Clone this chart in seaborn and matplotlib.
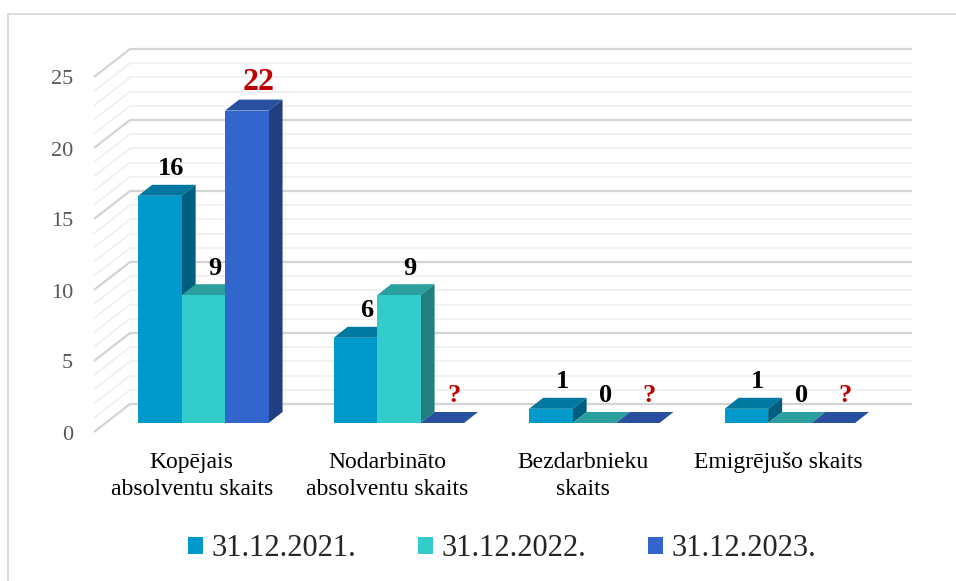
import numpy as np
import pandas as pd
import matplotlib
matplotlib.use("Agg")
import matplotlib.pyplot as plt
from matplotlib.patches import Polygon, Patch
from matplotlib.lines import Line2D
import matplotlib.colors as mcolors
import seaborn as sns

# ---------------- data ----------------
categories = ["Kopējais\nabsolventu skaits", "Nodarbināto\nabsolventu skaits",
              "Bezdarbnieku\nskaits", "Emigrējušo skaits"]
series_names = ["31.12.2021.", "31.12.2022.", "31.12.2023."]
values_2021 = [16, 6, 1, 1]
values_2022 = [9, 9, 0, 0]
values_2023 = [22, np.nan, np.nan, np.nan]   # unknown -> shown as "?"
y_ticks = [0, 5, 10, 15, 20, 25]

# ---------------- style ----------------
front_colors = ["#0099CC", "#33CCCC", "#3366CC"]
top_colors = ["#00789F", "#2A9F9D", "#28509F"]
side_colors = ["#005F80", "#1F807D", "#213F80"]
label_colors = ["black", "black", "#C00000"]

sns.set_style("white")
plt.rcParams["font.family"] = ["Liberation Serif", "DejaVu Serif"]

W, H, DPI = 956, 581, 100
fig = plt.figure(figsize=(W / DPI, H / DPI), dpi=DPI)
fig.patch.set_facecolor("white")

# front plane of the 3D box, in pixels
X0, X1 = 94, 876
Y0, Y25 = 432, 77
ax = fig.add_axes([X0 / W, 1 - Y0 / H, (X1 - X0) / W, (Y0 - Y25) / H])

df = pd.DataFrame({
    "category": categories * 3,
    "series": np.repeat(series_names, len(categories)),
    "value": values_2021 + values_2022 + values_2023,
})
df["height"] = df["value"].fillna(0)

sns.barplot(data=df, x="category", y="height", hue="series", order=categories,
            hue_order=series_names, palette=front_colors, saturation=1,
            width=0.667, linewidth=0, errorbar=None, legend=False, ax=ax)

ax.set_xlim(-0.5, 3.5)
ax.set_ylim(0, 25)
ax.axis("off")

px_x = (X1 - X0) / 4.0      # pixels per x unit
px_y = (Y0 - Y25) / 25.0    # pixels per value unit

def dx(p):
    return p / px_x

def dy(p):
    return p / px_y

# ---------------- walls ----------------
WDX, WDY = dx(36), dy(28)
for v in range(0, 26):
    major = v % 5 == 0
    col = "#d4d4d4" if major else "#eeeeee"
    lw = 1.6 if major else 1.1
    ax.plot([-0.5, -0.5 + WDX], [v, v + WDY], color=col, lw=lw,
            clip_on=False, zorder=1, solid_capstyle="butt")
    ax.plot([-0.5 + WDX, 3.5 + WDX], [v + WDY, v + WDY], color=col, lw=lw,
            clip_on=False, zorder=1, solid_capstyle="butt")

# ---------------- 3D bars ----------------
BDX0, BDY0 = dx(11.6), dy(9)     # bar front plane offset
BDX, BDY = dx(14), dy(11)        # bar depth

rgba_front = [mcolors.to_rgba(c) for c in front_colors]
bars = []
for p in list(ax.patches):
    fc = p.get_facecolor()
    idx = int(np.argmin([np.sum((np.array(fc) - np.array(c)) ** 2) for c in rgba_front]))
    bars.append((p.get_x(), p, idx))
bars.sort(key=lambda t: t[0])

for k, (x, p, idx) in enumerate(bars):
    w = p.get_width()
    h = p.get_height()
    x0 = x + BDX0
    x1 = x0 + w
    y0 = BDY0
    y1 = h + BDY0
    z = 3 + k * 0.1
    p.set_x(x0)
    p.set_y(y0)
    p.set_clip_on(False)
    p.set_zorder(z + 0.02)
    p.set_edgecolor("none")
    top = Polygon([(x0, y1), (x1, y1), (x1 + BDX, y1 + BDY), (x0 + BDX, y1 + BDY)],
                  closed=True, facecolor=top_colors[idx], edgecolor="none",
                  clip_on=False, zorder=z)
    side = Polygon([(x1, y0), (x1 + BDX, y0 + BDY), (x1 + BDX, y1 + BDY), (x1, y1)],
                   closed=True, facecolor=side_colors[idx], edgecolor="none",
                   clip_on=False, zorder=z + 0.01)
    ax.add_patch(top)
    if h > 0:
        ax.add_patch(side)

    # data label
    cat_i = int(round(x + w / 2 - (idx - 1) * w))
    val = [values_2021, values_2022, values_2023][idx][cat_i]
    if np.isnan(val):
        txt, col, size = "?", "#C00000", 19
    else:
        txt = f"{int(val)}"
        col = label_colors[idx]
        size = 23 if idx == 2 else 19
    ax.annotate(txt, (x0 + w / 2, y1), xytext=(11.5, 20.5), textcoords="offset pixels",
                ha="center", va="baseline", fontsize=size, fontweight="bold",
                color=col, annotation_clip=False, zorder=20)

# ---------------- axis texts ----------------
for v in y_ticks:
    ax.annotate(f"{v}", (-0.5, v), xytext=(-21, -7.5), textcoords="offset pixels",
                ha="right", va="baseline", fontsize=16, color="#595959",
                annotation_clip=False)

for i, c in enumerate(categories):
    ax.annotate(c, (i, 0), xytext=(0, -20), textcoords="offset pixels",
                ha="center", va="top", fontsize=17, color="black",
                linespacing=1.35, multialignment="center", annotation_clip=False)

handles = [Patch(facecolor=c, edgecolor="none") for c in front_colors]
fig.legend(handles, series_names, loc="center", bbox_to_anchor=(502 / W, 1 - 549 / H),
           ncol=3, frameon=False, prop={"family": "Liberation Serif", "size": 22},
           handlelength=0.49, handleheight=0.49, handletextpad=0.3, columnspacing=2.0,
           borderaxespad=0, borderpad=0)

# chart-area border (top and left edges visible in the crop)
fig.add_artist(Line2D([8 / W, 8 / W, 1.0], [0.0, 1 - 14 / H, 1 - 14 / H],
                      transform=fig.transFigure, color="#d9d9d9", lw=1.3))

fig.savefig("out.png", dpi=DPI, facecolor="white")
